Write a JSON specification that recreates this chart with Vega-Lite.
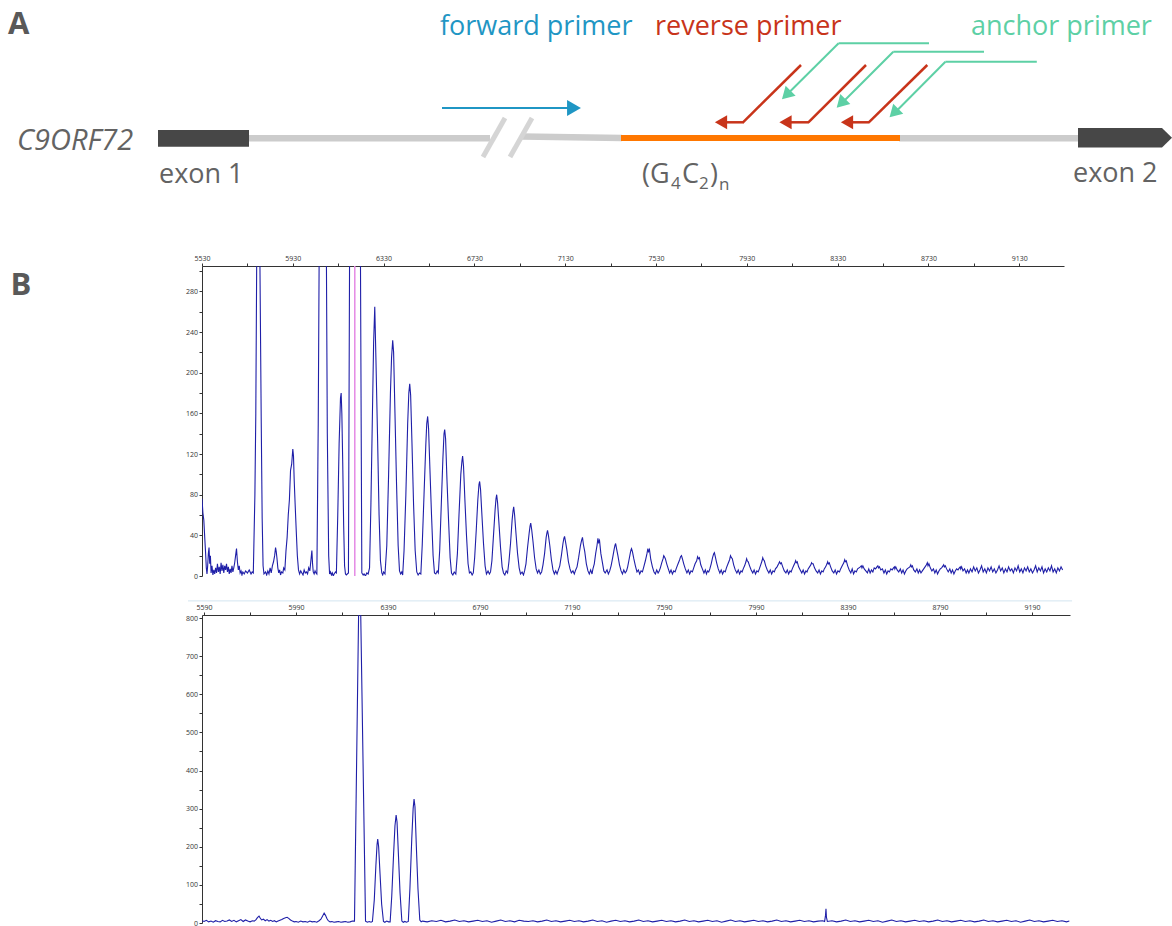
{
  "$schema": "https://vega.github.io/schema/vega-lite/v6.json",
  "padding": {"left": 8, "top": 0, "right": 0, "bottom": 0},
  "background": "white",
  "spacing": 21,
  "config": {
    "font": "Open Sans",
    "view": {"stroke": null},
    "axis": {"labelFont": "Open Sans", "labelFontSize": 7, "labelColor": "#333333", "domainColor": "#333333", "tickColor": "#333333", "tickSize": 3, "labelPadding": 1.5, "grid": false, "labelFlush": false, "labelOverlap": false, "domainWidth": 1, "tickWidth": 1}
  },
  "vconcat": [
    {
      "width": 862,
      "height": 233,
      "layer": [
        {
          "data": {"values": [
            {"x": 249, "y": 138.3, "x2": 490, "y2": 138.3},
            {"x": 522, "y": 136.5, "x2": 622, "y2": 138},
            {"x": 899, "y": 138.3, "x2": 1080, "y2": 138.3}
          ]},
          "mark": {"type": "rule", "color": "#cccccc", "strokeWidth": 6.5, "strokeCap": "butt"},
          "encoding": {
            "x": {"field": "x", "type": "quantitative", "scale": {"domain": [202, 1064], "nice": false, "zero": false}, "axis": null},
            "y": {"field": "y", "type": "quantitative", "scale": {"domain": [0, 233], "nice": false, "zero": false, "reverse": true}, "axis": null},
            "x2": {"field": "x2"}, "y2": {"field": "y2"}
          }
        },
        {
          "data": {"values": [
            {"x": 505, "y": 118, "x2": 483, "y2": 157},
            {"x": 532, "y": 118, "x2": 510, "y2": 157}
          ]},
          "mark": {"type": "rule", "color": "#d5d5d5", "strokeWidth": 5, "strokeCap": "butt"},
          "encoding": {"x": {"field": "x", "type": "quantitative"}, "y": {"field": "y", "type": "quantitative"}, "x2": {"field": "x2"}, "y2": {"field": "y2"}}
        },
        {
          "data": {"values": [{"x": 621, "y": 138, "x2": 900, "y2": 138}]},
          "mark": {"type": "rule", "color": "#ff7700", "strokeWidth": 6, "strokeCap": "butt"},
          "encoding": {"x": {"field": "x", "type": "quantitative"}, "y": {"field": "y", "type": "quantitative"}, "x2": {"field": "x2"}, "y2": {"field": "y2"}}
        },
        {
          "data": {"values": [{"x": 158, "x2": 249, "y": 130, "y2": 146.7}]},
          "mark": {"type": "rect", "color": "#474747"},
          "encoding": {"x": {"field": "x", "type": "quantitative"}, "y": {"field": "y", "type": "quantitative"}, "x2": {"field": "x2"}, "y2": {"field": "y2"}}
        },
        {
          "data": {"values": [
            {"x": 1078, "y": 128, "y2": 147.5},
            {"x": 1162, "y": 128, "y2": 147.5},
            {"x": 1172, "y": 137.7, "y2": 137.8}
          ]},
          "mark": {"type": "area", "color": "#474747", "orient": "vertical", "opacity": 1},
          "encoding": {"x": {"field": "x", "type": "quantitative"}, "y": {"field": "y", "type": "quantitative"}, "y2": {"field": "y2"}}
        },
        {
          "data": {"values": [{"x": 442, "y": 108, "x2": 568, "y2": 108}]},
          "mark": {"type": "rule", "color": "#1f96c4", "strokeWidth": 2},
          "encoding": {"x": {"field": "x", "type": "quantitative"}, "y": {"field": "y", "type": "quantitative"}, "x2": {"field": "x2"}, "y2": {"field": "y2"}}
        },
        {
          "data": {"values": [{"x": 574, "y": 108}]},
          "mark": {"type": "point", "shape": "triangle-right", "filled": true, "size": 256, "color": "#1f96c4", "opacity": 1, "strokeWidth": 0},
          "encoding": {"x": {"field": "x", "type": "quantitative"}, "y": {"field": "y", "type": "quantitative"}}
        },
        {
          "data": {"values": [
            {"x": 801, "y": 65, "x2": 743, "y2": 122.3},
            {"x": 744, "y": 122.3, "x2": 726, "y2": 122.3},
            {"x": 866, "y": 65, "x2": 808.4, "y2": 122.3},
            {"x": 809, "y": 122.3, "x2": 791, "y2": 122.3},
            {"x": 927.3, "y": 65, "x2": 868.8, "y2": 122.3},
            {"x": 869.5, "y": 122.3, "x2": 852, "y2": 122.3}
          ]},
          "mark": {"type": "rule", "color": "#c8341a", "strokeWidth": 2.5},
          "encoding": {"x": {"field": "x", "type": "quantitative"}, "y": {"field": "y", "type": "quantitative"}, "x2": {"field": "x2"}, "y2": {"field": "y2"}}
        },
        {
          "data": {"values": [{"x": 721, "y": 122.3}, {"x": 785.5, "y": 122.3}, {"x": 847, "y": 122.3}]},
          "mark": {"type": "point", "shape": "triangle-left", "filled": true, "size": 200, "color": "#c8341a", "opacity": 1, "strokeWidth": 0},
          "encoding": {"x": {"field": "x", "type": "quantitative"}, "y": {"field": "y", "type": "quantitative"}}
        },
        {
          "data": {"values": [
            {"x": 929, "y": 43.3, "x2": 838.6, "y2": 43.3},
            {"x": 838.6, "y": 43.3, "x2": 788, "y2": 93.5},
            {"x": 984, "y": 51.7, "x2": 893.3, "y2": 51.7},
            {"x": 893.3, "y": 51.7, "x2": 843, "y2": 102},
            {"x": 1036.8, "y": 61.7, "x2": 945.4, "y2": 61.7},
            {"x": 945.4, "y": 61.7, "x2": 896, "y2": 111.5}
          ]},
          "mark": {"type": "rule", "color": "#5dd0a5", "strokeWidth": 2},
          "encoding": {"x": {"field": "x", "type": "quantitative"}, "y": {"field": "y", "type": "quantitative"}, "x2": {"field": "x2"}, "y2": {"field": "y2"}}
        },
        {
          "data": {"values": [{"x": 786.3, "y": 95}, {"x": 841, "y": 103.4}, {"x": 893.9, "y": 113}]},
          "mark": {"type": "point", "shape": "triangle-up", "angle": 225, "filled": true, "size": 200, "color": "#5dd0a5", "opacity": 1, "strokeWidth": 0},
          "encoding": {"x": {"field": "x", "type": "quantitative"}, "y": {"field": "y", "type": "quantitative"}}
        },
        {
          "data": {"values": [{"x": 8, "y": 34, "t": "A"}]},
          "mark": {"type": "text", "align": "left", "baseline": "alphabetic", "fontSize": 31, "fontWeight": "bold", "color": "#595959"},
          "encoding": {"x": {"field": "x", "type": "quantitative"}, "y": {"field": "y", "type": "quantitative"}, "text": {"field": "t"}}
        },
        {
          "data": {"values": [
            {"x": 440, "y": 35, "t": "forward primer", "k": "fw"},
            {"x": 655, "y": 35, "t": "reverse primer", "k": "rv"},
            {"x": 971, "y": 35, "t": "anchor primer", "k": "an"}
          ]},
          "mark": {"type": "text", "align": "left", "baseline": "alphabetic", "fontSize": 27},
          "encoding": {
            "x": {"field": "x", "type": "quantitative"}, "y": {"field": "y", "type": "quantitative"}, "text": {"field": "t"},
            "color": {"field": "k", "type": "nominal", "scale": {"domain": ["fw", "rv", "an"], "range": ["#1f96c4", "#c8341a", "#5dd0a5"]}, "legend": null}
          }
        },
        {
          "data": {"values": [
            {"x": 159, "y": 183, "t": "exon 1"},
            {"x": 1073, "y": 182, "t": "exon 2"},
            {"x": 642, "y": 183, "t": "(G"},
            {"x": 682, "y": 183, "t": "C"},
            {"x": 710, "y": 183, "t": ")"}
          ]},
          "mark": {"type": "text", "align": "left", "baseline": "alphabetic", "fontSize": 27, "color": "#636363"},
          "encoding": {"x": {"field": "x", "type": "quantitative"}, "y": {"field": "y", "type": "quantitative"}, "text": {"field": "t"}}
        },
        {
          "data": {"values": [
            {"x": 671, "y": 189, "t": "4"},
            {"x": 699, "y": 189, "t": "2"},
            {"x": 719, "y": 190, "t": "n"}
          ]},
          "mark": {"type": "text", "align": "left", "baseline": "alphabetic", "fontSize": 17, "color": "#636363"},
          "encoding": {"x": {"field": "x", "type": "quantitative"}, "y": {"field": "y", "type": "quantitative"}, "text": {"field": "t"}}
        },
        {
          "data": {"values": [{"x": 17, "y": 150, "t": "C9ORF72"}]},
          "mark": {"type": "text", "align": "left", "baseline": "alphabetic", "fontSize": 29, "fontStyle": "italic", "color": "#636363"},
          "encoding": {"x": {"field": "x", "type": "quantitative"}, "y": {"field": "y", "type": "quantitative"}, "text": {"field": "t"}}
        }
      ]
    },
    {
      "width": 862,
      "height": 310,
      "layer": [
        {
          "data": {"values": [{"s": 6203}]},
          "mark": {"type": "rule", "color": "#e58ae5", "strokeWidth": 1.5},
          "encoding": {"x": {"field": "s", "type": "quantitative"}}
        },
        {
          "data": {
            "values": "s,v\n5530,76\n5534,62\n5538,55\n5542,38\n5546,22\n5549,8\n5552,2\n5555,10\n5558,22\n5561,28\n5564,12\n5567,20\n5570,3\n5574,10\n5578,1\n5582,6\n5586,2\n5590,8\n5594,3\n5598,12\n5602,4\n5606,9\n5610,2\n5614,13\n5618,5\n5622,11\n5626,3\n5630,10\n5634,6\n5638,12\n5642,4\n5646,9\n5650,2\n5654,7\n5658,3\n5662,10\n5666,4\n5670,8\n5674,13\n5678,20\n5682,27\n5686,14\n5690,6\n5694,10\n5698,3\n5702,5\n5706,1\n5710,4\n5716,2\n5722,5\n5730,3\n5738,6\n5746,2\n5751,4\n5756,3\n5763,80\n5767,160\n5771,312\n5785,312\n5791,150\n5795,57\n5799,10\n5803,2\n5810,4\n5815,1\n5820,5\n5825,2\n5830,8\n5835,3\n5840,10\n5845,14\n5850,20\n5854,28\n5857,24\n5860,18\n5864,8\n5868,3\n5872,6\n5876,1\n5880,4\n5886,3\n5890,8\n5895,6\n5900,25\n5905,38\n5910,60\n5915,75\n5920,104\n5925,110\n5930,125\n5933,118\n5936,95\n5940,72\n5945,45\n5950,20\n5955,6\n5960,2\n5965,5\n5970,3\n5975,1\n5980,6\n5985,3\n5990,4\n5995,2\n6000,8\n6005,5\n6010,16\n6014,25\n6017,12\n6020,4\n6024,2\n6028,5\n6032,3\n6036,2\n6042,150\n6046,312\n6078,312\n6082,140\n6088,20\n6092,2\n6096,4\n6100,1\n6104,3\n6108,0\n6112,2\n6118,4\n6122,3\n6128,60\n6134,130\n6140,175\n6143,180\n6146,160\n6150,110\n6154,50\n6158,10\n6162,2\n6166,1\n6170,2\n6175,3\n6180,312\n6228,312\n6234,3\n6240,1\n6244,2\n6250,0\n6256,3\n6262,2\n6268,8\n6274,70\n6280,150\n6286,230\n6291,265\n6296,215\n6303,140\n6310,60\n6316,15\n6322,3\n6326,1\n6330,4\n6336,2\n6344,30\n6352,100\n6360,180\n6365,215\n6370,232\n6374,220\n6380,160\n6387,90\n6394,30\n6400,5\n6405,2\n6410,4\n6414,1\n6420,25\n6428,80\n6436,150\n6441,180\n6445,189\n6449,178\n6455,130\n6462,70\n6469,25\n6476,4\n6482,1\n6488,3\n6494,2\n6500,30\n6508,80\n6516,130\n6520,150\n6524,157\n6528,145\n6534,105\n6541,60\n6548,20\n6554,3\n6560,2\n6566,5\n6571,3\n6577,25\n6584,70\n6591,115\n6596,140\n6599,144\n6603,135\n6609,95\n6616,55\n6623,18\n6629,3\n6635,1\n6641,4\n6648,2\n6655,22\n6662,60\n6670,100\n6675,113\n6678,118\n6682,108\n6688,75\n6695,40\n6702,12\n6708,3\n6714,4\n6720,1\n6725,3\n6731,18\n6738,45\n6745,75\n6750,90\n6753,93\n6757,85\n6763,60\n6770,32\n6777,10\n6783,2\n6790,5\n6796,2\n6801,4\n6807,15\n6814,40\n6821,65\n6825,76\n6828,80\n6832,72\n6838,52\n6845,28\n6852,9\n6858,3\n6864,1\n6870,5\n6876,3\n6882,14\n6889,32\n6896,55\n6900,64\n6903,68\n6907,60\n6913,42\n6920,22\n6927,8\n6933,2\n6940,4\n6946,1\n6951,5\n6957,12\n6964,28\n6971,42\n6975,49\n6978,52\n6982,46\n6988,34\n6995,18\n7002,7\n7008,3\n7014,6\n7020,2\n7026,4\n7032,11\n7039,22\n7046,38\n7049,42\n7052,45\n7056,40\n7062,30\n7069,16\n7076,6\n7082,2\n7088,5\n7094,2\n7100,6\n7106,10\n7113,20\n7120,32\n7124,37\n7127,39\n7131,34\n7137,26\n7144,14\n7151,7\n7157,3\n7164,5\n7170,2\n7176,6\n7182,9\n7189,18\n7197,30\n7202,35\n7206,38\n7210,31\n7216,24\n7223,12\n7230,5\n7236,2\n7242,6\n7248,2\n7252,7\n7258,12\n7264,22\n7270,30\n7274,37\n7277,33\n7281,35\n7287,22\n7294,13\n7300,5\n7306,3\n7314,6\n7320,2\n7326,5\n7332,10\n7339,18\n7346,27\n7349,30\n7352,32\n7356,27\n7362,20\n7369,11\n7376,5\n7382,2\n7388,6\n7394,3\n7400,5\n7405,9\n7411,16\n7417,23\n7420,26\n7422,27\n7426,24\n7432,17\n7439,10\n7446,4\n7452,6\n7458,2\n7464,5\n7470,4\n7476,9\n7483,15\n7490,22\n7494,27\n7497,24\n7501,26\n7507,16\n7514,9\n7521,4\n7527,2\n7533,6\n7539,3\n7544,5\n7549,8\n7555,13\n7561,17\n7564,20\n7567,19\n7571,17\n7577,12\n7584,7\n7590,3\n7596,6\n7602,2\n7608,5\n7614,4\n7620,8\n7627,12\n7634,16\n7638,19\n7642,20\n7646,17\n7652,12\n7659,7\n7666,3\n7672,6\n7678,2\n7684,5\n7690,4\n7696,8\n7702,12\n7709,15\n7713,19\n7717,17\n7721,18\n7727,11\n7734,7\n7741,3\n7747,6\n7752,2\n7757,5\n7762,4\n7767,7\n7773,12\n7779,18\n7784,22\n7787,23\n7791,19\n7797,13\n7804,7\n7811,3\n7817,6\n7823,2\n7829,5\n7835,4\n7840,8\n7847,12\n7854,16\n7858,20\n7862,18\n7866,17\n7872,11\n7879,6\n7886,3\n7892,6\n7898,2\n7904,5\n7909,4\n7914,7\n7920,10\n7926,14\n7929,17\n7932,15\n7936,14\n7942,10\n7949,6\n7956,3\n7962,6\n7968,2\n7974,5\n7980,4\n7985,7\n7991,11\n7997,15\n8000,18\n8003,16\n8007,15\n8013,10\n8020,6\n8027,3\n8033,6\n8039,2\n8045,5\n8051,4\n8056,7\n8063,9\n8070,12\n8074,14\n8078,12\n8082,13\n8088,9\n8095,5\n8102,3\n8108,6\n8114,2\n8120,5\n8125,4\n8130,7\n8136,10\n8142,13\n8145,15\n8148,13\n8152,14\n8158,9\n8165,6\n8172,3\n8178,6\n8184,2\n8190,5\n8195,4\n8200,7\n8206,9\n8212,11\n8215,13\n8218,12\n8222,12\n8228,8\n8235,5\n8242,3\n8248,6\n8254,2\n8260,5\n8266,4\n8271,7\n8277,9\n8283,12\n8286,14\n8289,12\n8293,13\n8299,9\n8306,5\n8313,3\n8319,6\n8325,2\n8331,5\n8338,4\n8343,7\n8350,10\n8357,13\n8361,16\n8364,14\n8368,15\n8374,10\n8381,6\n8388,3\n8394,7\n8400,2\n8406,5\n8412,4\n8418,7\n8424,8\n8430,9\n8434,10\n8437,8\n8441,10\n8447,7\n8454,5\n8461,3\n8467,7\n8473,3\n8479,6\n8485,4\n8491,8\n8497,7\n8503,9\n8507,10\n8510,8\n8514,9\n8520,6\n8527,7\n8534,3\n8540,6\n8546,2\n8552,5\n8558,4\n8564,7\n8570,6\n8576,8\n8580,9\n8582,7\n8586,9\n8592,6\n8599,4\n8606,7\n8612,3\n8618,6\n8624,2\n8630,5\n8636,7\n8642,8\n8648,9\n8652,11\n8655,9\n8659,10\n8665,6\n8672,4\n8679,7\n8685,3\n8691,6\n8697,3\n8703,5\n8709,7\n8715,9\n8721,11\n8725,13\n8728,10\n8732,12\n8738,8\n8745,5\n8752,7\n8758,3\n8764,6\n8770,2\n8776,5\n8782,7\n8788,8\n8794,10\n8797,11\n8800,9\n8804,10\n8810,7\n8817,4\n8824,7\n8830,3\n8836,6\n8842,2\n8848,5\n8854,7\n8860,6\n8866,8\n8870,9\n8872,7\n8876,9\n8882,5\n8889,7\n8896,3\n8902,6\n8908,3\n8915,7\n8922,4\n8929,9\n8936,5\n8943,8\n8950,3\n8957,6\n8964,10\n8971,4\n8978,7\n8985,3\n8992,8\n8999,5\n9006,9\n9013,4\n9020,7\n9027,3\n9034,6\n9041,10\n9048,5\n9055,8\n9062,3\n9069,7\n9076,4\n9083,9\n9090,5\n9097,7\n9104,3\n9111,8\n9118,5\n9125,10\n9132,4\n9139,7\n9146,3\n9153,8\n9160,5\n9167,9\n9174,4\n9181,7\n9188,3\n9195,6\n9202,10\n9209,4\n9216,8\n9223,5\n9230,9\n9237,3\n9244,7\n9251,4\n9258,8\n9265,5\n9272,10\n9279,4\n9286,7\n9293,3\n9300,8\n9307,5\n9314,9\n9321,6",
            "format": {"type": "csv", "parse": {"s": "number", "v": "number"}}
          },
          "mark": {"type": "line", "clip": true, "color": "#1f1fa8", "strokeWidth": 1.1},
          "encoding": {
            "x": {"field": "s", "type": "quantitative", "scale": {"domain": [5530, 9327], "nice": false, "zero": false},
              "axis": {"orient": "top", "title": null, "format": "d", "labelOverlap": false, "labelFlush": false, "values": [5530, 5730, 5930, 6130, 6330, 6530, 6730, 6930, 7130, 7330, 7530, 7730, 7930, 8130, 8330, 8530, 8730, 8930, 9130],
                "labelExpr": "(datum.value - 5530) % 400 == 0 ? datum.label : ''"}},
            "y": {"field": "v", "type": "quantitative", "scale": {"domain": [0, 305], "nice": false, "zero": false},
              "axis": {"orient": "left", "format": "d", "labelOverlap": false, "values": [0, 20, 40, 60, 80, 100, 120, 140, 160, 180, 200, 220, 240, 260, 280, 300],
                "labelExpr": "datum.value % 40 == 0 ? datum.label : ''",
                "title": "B", "titleAngle": 0, "titleX": -192, "titleY": 28, "titleAlign": "left", "titleBaseline": "alphabetic", "titleFontSize": 31, "titleFontWeight": "bold", "titleColor": "#595959", "titleFont": "Open Sans"}}
          }
        }
      ]
    },
    {
      "width": 868,
      "height": 308,
      "layer": [
        {
          "data": {"values": [{"s": 5520, "s2": 9364, "w": 845}]},
          "mark": {"type": "rule", "color": "#d3e5f0", "strokeWidth": 1},
          "encoding": {
            "x": {"field": "s", "type": "quantitative"},
            "x2": {"field": "s2"},
            "y": {"field": "w", "type": "quantitative", "scale": {"domain": [0, 808], "nice": false, "zero": false},
              "axis": {"orient": "left", "title": null, "format": "d", "labelOverlap": false, "values": [0, 50, 100, 150, 200, 250, 300, 350, 400, 450, 500, 550, 600, 650, 700, 750, 800],
                "labelExpr": "datum.value % 100 == 0 ? datum.label : ''"}}
          }
        },
        {
          "data": {
            "values": "s,v\n5582,6\n5590,4\n5600,7\n5610,3\n5620,5\n5630,2\n5640,6\n5650,4\n5660,3\n5670,7\n5680,4\n5690,5\n5700,8\n5710,4\n5720,7\n5730,3\n5740,6\n5750,9\n5760,4\n5770,8\n5780,5\n5790,3\n5800,6\n5808,5\n5816,9\n5822,14\n5829,18\n5834,13\n5840,8\n5848,10\n5856,6\n5864,9\n5872,5\n5880,7\n5888,4\n5896,6\n5904,3\n5912,5\n5920,7\n5928,9\n5936,12\n5944,14\n5951,15\n5958,12\n5966,8\n5974,5\n5982,3\n5990,4\n6000,2\n6010,5\n6020,3\n6030,4\n6040,2\n6050,5\n6060,3\n6070,4\n6080,2\n6090,6\n6098,10\n6105,18\n6112,26\n6118,20\n6124,12\n6130,6\n6138,3\n6146,4\n6155,2\n6165,3\n6175,4\n6185,2\n6195,3\n6205,4\n6215,2\n6225,3\n6235,5\n6244,5\n6262,815\n6271,815\n6292,5\n6300,2\n6308,4\n6316,2\n6322,4\n6330,60\n6337,150\n6342,205\n6345,220\n6349,200\n6355,130\n6362,50\n6370,4\n6376,2\n6384,5\n6392,3\n6399,3\n6406,70\n6414,180\n6420,255\n6425,283\n6429,265\n6435,180\n6442,80\n6450,5\n6456,2\n6463,4\n6470,2\n6478,4\n6485,90\n6493,220\n6499,300\n6503,325\n6507,305\n6513,200\n6520,90\n6528,8\n6534,3\n6540,5\n6560,3\n6580,6\n6600,4\n6620,7\n6640,3\n6660,5\n6680,8\n6700,4\n6720,6\n6740,3\n6760,5\n6780,7\n6800,4\n6820,6\n6840,2\n6860,5\n6880,8\n6900,4\n6920,6\n6940,3\n6960,7\n6980,5\n7000,4\n7020,6\n7040,3\n7060,5\n7080,8\n7100,4\n7120,6\n7140,3\n7160,5\n7180,7\n7200,4\n7220,6\n7240,3\n7260,5\n7280,8\n7300,4\n7320,6\n7340,2\n7360,5\n7380,7\n7400,4\n7420,6\n7440,3\n7460,5\n7480,8\n7500,4\n7520,6\n7540,3\n7560,5\n7580,7\n7600,4\n7620,6\n7640,3\n7660,5\n7680,8\n7700,4\n7720,6\n7740,3\n7760,5\n7780,7\n7800,4\n7820,6\n7840,2\n7860,5\n7880,8\n7900,4\n7920,6\n7940,3\n7960,5\n7980,7\n8000,4\n8020,6\n8040,3\n8060,5\n8080,8\n8100,4\n8120,6\n8140,3\n8160,5\n8180,7\n8200,4\n8220,6\n8240,3\n8260,5\n8280,6\n8288,4\n8292,20\n8294,37\n8296,15\n8300,4\n8320,6\n8340,3\n8360,5\n8380,8\n8400,4\n8420,6\n8440,3\n8460,5\n8480,7\n8500,4\n8520,6\n8540,2\n8560,5\n8580,8\n8600,4\n8620,6\n8640,3\n8660,5\n8680,7\n8700,4\n8720,6\n8740,3\n8760,5\n8780,8\n8800,4\n8820,6\n8840,3\n8860,5\n8880,7\n8900,4\n8920,6\n8940,3\n8960,5\n8980,8\n9000,4\n9020,6\n9040,3\n9060,5\n9080,7\n9100,4\n9120,6\n9140,2\n9160,5\n9180,8\n9200,4\n9220,6\n9240,3\n9260,5\n9280,7\n9300,4\n9320,6\n9340,3\n9352,5",
            "format": {"type": "csv", "parse": {"s": "number", "v": "number"}}
          },
          "mark": {"type": "line", "clip": true, "color": "#1f1fa8", "strokeWidth": 1.1},
          "encoding": {
            "x": {"field": "s", "type": "quantitative", "scale": {"domain": [5581, 9355], "nice": false, "zero": false},
              "axis": {"orient": "top", "title": null, "format": "d", "labelOverlap": false, "labelFlush": false, "values": [5590, 5790, 5990, 6190, 6390, 6590, 6790, 6990, 7190, 7390, 7590, 7790, 7990, 8190, 8390, 8590, 8790, 8990, 9190],
                "labelExpr": "(datum.value - 5590) % 400 == 0 ? datum.label : ''"}},
            "y": {"field": "v", "type": "quantitative", "scale": {"domain": [0, 808], "nice": false, "zero": false},
              "axis": {"orient": "left", "title": null, "format": "d", "labelOverlap": false, "values": [0, 50, 100, 150, 200, 250, 300, 350, 400, 450, 500, 550, 600, 650, 700, 750, 800],
                "labelExpr": "datum.value % 100 == 0 ? datum.label : ''"}}
          }
        }
      ]
    }
  ]
}
